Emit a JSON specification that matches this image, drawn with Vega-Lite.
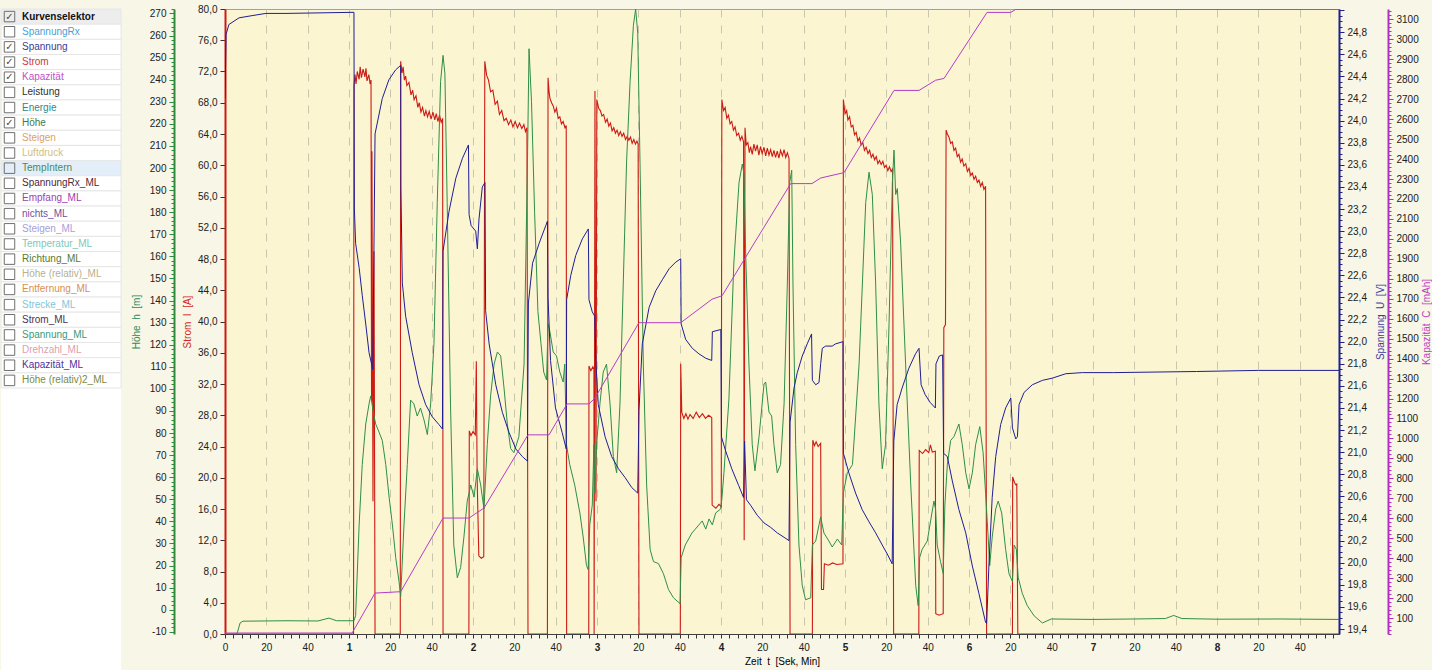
{
  "$schema": "https://vega.github.io/schema/vega-lite/v6.json",
  "background": "#F7F6E7",
  "padding": {"left": 0, "top": 3, "right": 0, "bottom": 0},
  "spacing": 8,
  "config": {
    "font": "Liberation Sans",
    "axis": {"labelFont": "Liberation Sans", "titleFont": "Liberation Sans", "labelFontSize": 10, "titleFontSize": 10, "titleFontWeight": "normal", "labelColor": "#202020", "labelFlush": false, "labelOverlap": false, "grid": false}
  },
  "datasets": {
    "kurven": [
      {"i": 0, "name": "Kurvenselektor", "an": true},
      {"i": 1, "name": "SpannungRx", "an": false},
      {"i": 2, "name": "Spannung", "an": true},
      {"i": 3, "name": "Strom", "an": true},
      {"i": 4, "name": "Kapazität", "an": true},
      {"i": 5, "name": "Leistung", "an": false},
      {"i": 6, "name": "Energie", "an": false},
      {"i": 7, "name": "Höhe", "an": true},
      {"i": 8, "name": "Steigen", "an": false},
      {"i": 9, "name": "Luftdruck", "an": false},
      {"i": 10, "name": "TempIntern", "an": false},
      {"i": 11, "name": "SpannungRx_ML", "an": false},
      {"i": 12, "name": "Empfang_ML", "an": false},
      {"i": 13, "name": "nichts_ML", "an": false},
      {"i": 14, "name": "Steigen_ML", "an": false},
      {"i": 15, "name": "Temperatur_ML", "an": false},
      {"i": 16, "name": "Richtung_ML", "an": false},
      {"i": 17, "name": "Höhe (relativ)_ML", "an": false},
      {"i": 18, "name": "Entfernung_ML", "an": false},
      {"i": 19, "name": "Strecke_ML", "an": false},
      {"i": 20, "name": "Strom_ML", "an": false},
      {"i": 21, "name": "Spannung_ML", "an": false},
      {"i": 22, "name": "Drehzahl_ML", "an": false},
      {"i": 23, "name": "Kapazität_ML", "an": false},
      {"i": 24, "name": "Höhe (relativ)2_ML", "an": false}
    ],
    "strom": [
      {"t":0,"v":0},{"t":62.2,"v":0},{"t":62.4,"v":70.1},{"t":62.9,"v":71.6},{"t":63.4,"v":70.4},{"t":64.0,"v":72.0},{"t":64.9,"v":71.0},{"t":65.4,"v":72.6},{"t":66.0,"v":71.2},{"t":66.8,"v":72.3},{"t":67.7,"v":71.3},{"t":68.2,"v":72.4},{"t":68.7,"v":70.8},{"t":69.6,"v":71.6},{"t":70.2,"v":70.4},{"t":70.65,"v":70.9},{"t":70.9,"v":29.8},{"t":71.1,"v":61.8},{"t":71.6,"v":17.0},{"t":72.1,"v":49.0},{"t":72.6,"v":0},
      {"t":84.8,"v":0},{"t":85.0,"v":73.3},{"t":85.6,"v":71.8},{"t":86.2,"v":72.6},{"t":86.8,"v":70.9},{"t":87.4,"v":71.4},{"t":88.0,"v":70.2},{"t":89.0,"v":70.6},{"t":90.0,"v":69.0},{"t":90.8,"v":69.6},{"t":91.5,"v":68.4},{"t":92.4,"v":68.9},{"t":93.3,"v":67.4},{"t":94.0,"v":68.0},{"t":94.8,"v":66.8},{"t":95.6,"v":67.4},{"t":96.5,"v":66.3},{"t":97.2,"v":67.0},{"t":98.0,"v":66.2},{"t":98.8,"v":66.9},{"t":99.7,"v":65.9},{"t":100.6,"v":66.8},{"t":101.5,"v":65.8},{"t":102.2,"v":66.6},{"t":103.0,"v":65.6},{"t":103.8,"v":66.4},{"t":104.6,"v":65.5},{"t":105.3,"v":66.0},{"t":105.5,"v":0},
      {"t":118.0,"v":0},{"t":118.2,"v":26.0},{"t":119.0,"v":25.4},{"t":120.0,"v":25.9},{"t":121.1,"v":25.5},{"t":121.6,"v":34.9},{"t":122.0,"v":20.0},{"t":122.8,"v":10.0},{"t":124.0,"v":9.7},{"t":125.2,"v":9.9},{"t":125.7,"v":73.3},{"t":126.6,"v":71.5},{"t":127.5,"v":70.9},{"t":128.5,"v":69.4},{"t":129.6,"v":69.6},{"t":130.7,"v":67.8},{"t":131.8,"v":68.2},{"t":132.8,"v":66.5},{"t":133.9,"v":67.0},{"t":135.0,"v":65.7},{"t":136.1,"v":66.0},{"t":137.2,"v":65.2},{"t":138.3,"v":65.8},{"t":139.3,"v":64.9},{"t":140.4,"v":65.6},{"t":141.5,"v":64.8},{"t":142.5,"v":65.4},{"t":143.6,"v":64.7},{"t":144.6,"v":65.2},{"t":145.4,"v":64.3},{"t":146.1,"v":64.8},{"t":146.6,"v":0},
      {"t":156.0,"v":0},{"t":156.3,"v":71.2},{"t":156.8,"v":69.4},{"t":157.2,"v":68.6},{"t":158.0,"v":68.0},{"t":158.8,"v":67.6},{"t":159.6,"v":66.8},{"t":160.4,"v":67.3},{"t":161.2,"v":66.0},{"t":162.0,"v":66.2},{"t":162.8,"v":65.3},{"t":163.6,"v":65.6},{"t":164.5,"v":64.8},{"t":165.1,"v":65.1},{"t":165.3,"v":0},
      {"t":176.0,"v":0},{"t":176.1,"v":34.3},{"t":177.0,"v":33.7},{"t":178.0,"v":34.2},{"t":178.5,"v":33.9},{"t":178.6,"v":0},{"t":179.0,"v":69.5},{"t":179.5,"v":17.0},{"t":179.9,"v":68.4},{"t":180.8,"v":67.3},{"t":181.6,"v":67.0},{"t":182.4,"v":66.3},{"t":183.2,"v":66.5},{"t":184.1,"v":65.5},{"t":184.9,"v":65.9},{"t":185.7,"v":65.0},{"t":186.5,"v":65.4},{"t":187.3,"v":64.4},{"t":188.1,"v":64.8},{"t":188.9,"v":64.1},{"t":189.7,"v":64.5},{"t":190.5,"v":63.8},{"t":191.3,"v":64.3},{"t":192.1,"v":63.7},{"t":192.9,"v":64.1},{"t":193.8,"v":63.3},{"t":194.6,"v":63.7},{"t":195.4,"v":63.2},{"t":196.2,"v":63.6},{"t":197.0,"v":62.8},{"t":197.8,"v":63.3},{"t":198.6,"v":62.7},{"t":199.3,"v":63.1},{"t":199.9,"v":62.7},{"t":200.3,"v":0},
      {"t":220.3,"v":0},{"t":220.5,"v":34.6},{"t":221.0,"v":28.4},{"t":222.0,"v":27.6},{"t":223.0,"v":28.2},{"t":224.0,"v":27.5},{"t":225.0,"v":28.1},{"t":226.5,"v":27.6},{"t":228.0,"v":28.4},{"t":229.5,"v":27.7},{"t":231.0,"v":28.2},{"t":232.5,"v":27.6},{"t":234.0,"v":28.0},{"t":235.5,"v":27.7},{"t":235.7,"v":16.5},{"t":237.5,"v":16.1},{"t":239.0,"v":16.6},{"t":240.1,"v":16.3},{"t":240.4,"v":68.4},{"t":241.2,"v":67.0},{"t":242.0,"v":67.4},{"t":242.8,"v":66.0},{"t":243.6,"v":66.4},{"t":244.4,"v":65.3},{"t":245.2,"v":65.6},{"t":246.0,"v":64.5},{"t":246.8,"v":64.9},{"t":247.6,"v":63.8},{"t":248.5,"v":64.1},{"t":249.3,"v":63.2},{"t":250.1,"v":63.7},{"t":250.9,"v":63.0},{"t":251.2,"v":12.0},{"t":251.6,"v":64.8},{"t":252.2,"v":62.6},{"t":253.0,"v":62.9},{"t":253.7,"v":61.6},{"t":254.3,"v":62.4},{"t":255.1,"v":61.4},{"t":255.9,"v":62.7},{"t":256.7,"v":61.8},{"t":257.5,"v":62.6},{"t":258.3,"v":61.3},{"t":259.1,"v":62.4},{"t":259.9,"v":61.5},{"t":260.8,"v":62.3},{"t":261.6,"v":61.2},{"t":262.4,"v":62.2},{"t":263.2,"v":61.3},{"t":264.0,"v":62.0},{"t":264.8,"v":61.1},{"t":265.6,"v":61.9},{"t":266.4,"v":61.0},{"t":267.2,"v":61.8},{"t":268.0,"v":60.9},{"t":268.8,"v":61.9},{"t":269.7,"v":61.2},{"t":270.5,"v":62.0},{"t":271.3,"v":61.0},{"t":272.1,"v":61.6},{"t":272.9,"v":60.9},{"t":273.4,"v":0},
      {"t":284.2,"v":0},{"t":284.4,"v":24.8},{"t":285.2,"v":24.1},{"t":286.0,"v":24.6},{"t":287.0,"v":24.0},{"t":288.2,"v":24.4},{"t":288.6,"v":5.7},{"t":289.6,"v":5.7},{"t":290.0,"v":9.0},{"t":292.0,"v":8.8},{"t":294.0,"v":9.1},{"t":296.0,"v":8.9},{"t":299.0,"v":9.0},{"t":299.2,"v":68.4},{"t":300.0,"v":66.6},{"t":300.8,"v":67.0},{"t":301.4,"v":65.8},{"t":302.2,"v":66.2},{"t":303.0,"v":64.9},{"t":303.8,"v":65.1},{"t":304.6,"v":63.9},{"t":305.4,"v":64.2},{"t":306.2,"v":63.1},{"t":307.0,"v":63.5},{"t":307.8,"v":62.6},{"t":308.6,"v":62.9},{"t":309.4,"v":61.9},{"t":310.2,"v":62.3},{"t":311.1,"v":61.5},{"t":311.9,"v":61.9},{"t":312.7,"v":61.0},{"t":313.5,"v":61.4},{"t":314.3,"v":60.7},{"t":315.1,"v":61.1},{"t":315.9,"v":60.2},{"t":316.7,"v":60.6},{"t":317.5,"v":60.1},{"t":318.3,"v":60.5},{"t":319.1,"v":59.7},{"t":319.9,"v":60.0},{"t":320.7,"v":59.3},{"t":321.5,"v":59.8},{"t":322.3,"v":59.2},{"t":323.0,"v":59.5},{"t":323.5,"v":0},
      {"t":335.7,"v":0},{"t":335.9,"v":23.5},{"t":337.5,"v":23.1},{"t":339.0,"v":23.6},{"t":340.5,"v":23.2},{"t":341.3,"v":24.2},{"t":342.2,"v":23.3},{"t":343.7,"v":23.4},{"t":343.9,"v":2.6},{"t":345.5,"v":2.4},{"t":347.5,"v":2.6},{"t":347.8,"v":39.2},{"t":348.6,"v":39.6},{"t":348.9,"v":64.5},{"t":349.5,"v":64.0},{"t":350.3,"v":63.6},{"t":351.1,"v":62.8},{"t":351.9,"v":63.0},{"t":352.7,"v":61.9},{"t":353.5,"v":62.2},{"t":354.3,"v":61.1},{"t":355.1,"v":61.4},{"t":355.9,"v":60.4},{"t":356.7,"v":60.8},{"t":357.5,"v":59.9},{"t":358.4,"v":60.2},{"t":359.2,"v":59.2},{"t":360.0,"v":59.6},{"t":360.8,"v":58.7},{"t":361.6,"v":59.0},{"t":362.4,"v":58.2},{"t":363.2,"v":58.6},{"t":364.0,"v":57.8},{"t":364.8,"v":58.1},{"t":365.6,"v":57.3},{"t":366.4,"v":57.8},{"t":367.2,"v":56.9},{"t":368.0,"v":57.3},{"t":368.5,"v":0},
      {"t":381.0,"v":0},{"t":381.1,"v":20.1},{"t":382.0,"v":19.4},{"t":382.6,"v":19.1},{"t":383.1,"v":19.2},{"t":383.6,"v":0},{"t":539,"v":0}
    ],
    "hoehe": [
      {"t":0,"v":-11},{"t":5.8,"v":-11},{"t":7.3,"v":-6},{"t":8.7,"v":-5.2},{"t":30,"v":-5.0},{"t":45,"v":-5.1},{"t":50.3,"v":-3.8},{"t":54,"v":-5.0},{"t":62.4,"v":-5.0},{"t":63.2,"v":-2.7},{"t":64.9,"v":38.4},{"t":66.4,"v":65.7},{"t":68.1,"v":84.1},{"t":69.7,"v":93.2},{"t":70.5,"v":96.8},{"t":72.1,"v":87.7},{"t":72.9,"v":84.1},{"t":74.5,"v":80.5},{"t":76.1,"v":76.6},{"t":77.8,"v":65.7},{"t":79.4,"v":51.0},{"t":81.0,"v":38.4},{"t":82.6,"v":23.6},{"t":84.2,"v":12.7},{"t":85.0,"v":6},
      {"t":86.6,"v":38.4},{"t":88.2,"v":65.7},{"t":89.8,"v":94.9},{"t":91.4,"v":93.2},{"t":93.0,"v":87.7},{"t":94.6,"v":91.3},{"t":96.3,"v":85.9},{"t":97.9,"v":79.3},{"t":99.5,"v":93.2},{"t":101.1,"v":120.4},{"t":102.7,"v":184.3},{"t":104.3,"v":239.1},{"t":105.5,"v":251},{"t":106.4,"v":242.7},{"t":107.5,"v":184.3},{"t":109.1,"v":93.2},{"t":110.7,"v":29.3},{"t":112.4,"v":14.5},{"t":114.0,"v":19.1},{"t":115.6,"v":32.9},{"t":117.2,"v":49.2},{"t":118.1,"v":52.8},{"t":118.9,"v":56.5},{"t":120.5,"v":51.0},{"t":122.1,"v":63.8},{"t":123.7,"v":56.5},{"t":125.3,"v":45.6},
      {"t":126.9,"v":74.8},{"t":128.5,"v":96.8},{"t":130.2,"v":111.2},{"t":131.8,"v":116.7},{"t":133.4,"v":114.9},{"t":135.0,"v":100.4},{"t":136.6,"v":84.1},{"t":138.2,"v":73.0},{"t":139.8,"v":71.1},{"t":142.2,"v":78.4},{"t":144.7,"v":111.2},{"t":146.3,"v":200},{"t":147.1,"v":254},{"t":148.3,"v":230},{"t":149.8,"v":180},{"t":151.4,"v":135},{"t":152.9,"v":120.4},{"t":154.2,"v":107.6},{"t":155.6,"v":104.0},{"t":156.3,"v":129.5},{"t":157.2,"v":125.9},{"t":158.8,"v":116.7},{"t":160.4,"v":114.9},{"t":162.0,"v":107.6},{"t":163.6,"v":103.1},{"t":164.4,"v":111.2},{"t":165.2,"v":74.8},{"t":166.8,"v":65.7},{"t":169.2,"v":56.5},{"t":171.7,"v":43.8},{"t":173.3,"v":32.9},{"t":174.9,"v":20.0},{"t":175.7,"v":18.2},
      {"t":176.5,"v":38.4},{"t":177.7,"v":47.4},{"t":178.5,"v":74.8},{"t":179.0,"v":52.8},{"t":179.8,"v":74.8},{"t":181.4,"v":93.2},{"t":183.0,"v":107.6},{"t":184.6,"v":111.2},{"t":186.3,"v":93.2},{"t":187.9,"v":69.3},{"t":189.5,"v":62.0},{"t":191.1,"v":93.2},{"t":192.7,"v":147.9},{"t":194.3,"v":202.7},{"t":196.0,"v":239.1},{"t":197.6,"v":264.6},{"t":198.7,"v":272},{"t":199.7,"v":261},{"t":200.8,"v":202.7},{"t":202.4,"v":111.2},{"t":204.0,"v":56.5},{"t":205.7,"v":27.3},{"t":207.3,"v":21.8},{"t":209.7,"v":20.9},{"t":212.1,"v":16.4},{"t":214.6,"v":9.1},{"t":217.0,"v":5.4},{"t":220.2,"v":2.7},
      {"t":220.7,"v":23.6},{"t":222.7,"v":29.3},{"t":225.9,"v":34.7},{"t":229.3,"v":38.4},{"t":230.9,"v":40.2},{"t":232.6,"v":36.5},{"t":234.2,"v":41.1},{"t":235.8,"v":38.4},{"t":237.4,"v":43.8},{"t":239.8,"v":45.6},{"t":240.4,"v":50},{"t":241.4,"v":62},{"t":243.8,"v":95},{"t":246.2,"v":157.0},{"t":248.7,"v":193.4},{"t":250.3,"v":201.8},{"t":251.1,"v":197.2},{"t":251.9,"v":162.4},{"t":253.5,"v":111.2},{"t":255.1,"v":74.8},{"t":256.4,"v":62.9},{"t":258.4,"v":78.4},{"t":260.8,"v":102.2},{"t":261.6,"v":103.1},{"t":263.2,"v":89.5},{"t":264.5,"v":87.7},{"t":265.6,"v":74.8},{"t":267.2,"v":62.0},{"t":268.8,"v":65.7},{"t":270.5,"v":93.2},{"t":272.1,"v":147.9},{"t":273.2,"v":193.4},{"t":274.2,"v":199.0},{"t":274.8,"v":147.9},{"t":276.1,"v":74.8},{"t":277.7,"v":29.3},{"t":279.3,"v":10.9},{"t":280.9,"v":4.5},{"t":283.4,"v":5.4},
      {"t":284.2,"v":29.3},{"t":285.8,"v":31.1},{"t":288.2,"v":42.0},{"t":289.8,"v":34.7},{"t":292.2,"v":31.1},{"t":293.8,"v":28.4},{"t":296.3,"v":32.0},{"t":298.4,"v":29.3},{"t":299.2,"v":52.8},{"t":301.1,"v":62.0},{"t":303.6,"v":65.7},{"t":306.8,"v":111.2},{"t":310.0,"v":184.3},{"t":311.6,"v":198.1},{"t":313.2,"v":188.0},{"t":314.8,"v":147.9},{"t":316.4,"v":93.2},{"t":318.0,"v":63.8},{"t":319.6,"v":74.8},{"t":321.3,"v":129.5},{"t":322.9,"v":193.4},{"t":323.7,"v":208.1},{"t":324.5,"v":188.0},{"t":325.3,"v":190.7},{"t":326.9,"v":166.0},{"t":329.3,"v":111.2},{"t":331.8,"v":56.5},{"t":334.2,"v":10.9},{"t":335.4,"v":1.8},
      {"t":336.1,"v":23.6},{"t":337.3,"v":27.3},{"t":339.8,"v":31.1},{"t":341.4,"v":40.2},{"t":343.0,"v":49.2},{"t":343.8,"v":45.6},{"t":344.6,"v":29.3},{"t":346.2,"v":21.8},{"t":347.5,"v":16.4},{"t":348.3,"v":47.4},{"t":349.5,"v":65.7},{"t":351.1,"v":76.6},{"t":352.7,"v":78.4},{"t":355.1,"v":84.1},{"t":356.7,"v":74.8},{"t":358.4,"v":62.0},{"t":360.0,"v":54.7},{"t":361.6,"v":62.0},{"t":363.2,"v":74.8},{"t":365.2,"v":82.9},{"t":366.8,"v":71.1},{"t":368.0,"v":52.8},{"t":368.8,"v":40.2},{"t":370.0,"v":20.0},{"t":371.2,"v":32.9},{"t":372.9,"v":45.6},{"t":374.1,"v":49.2},{"t":375.8,"v":43.8},{"t":377.7,"v":27.3},{"t":379.3,"v":16.4},{"t":381.0,"v":12.7},{"t":381.8,"v":29.3},{"t":382.9,"v":27.3},{"t":383.8,"v":14.5},{"t":385.8,"v":7.3},{"t":388.2,"v":1.8},{"t":391.5,"v":-2.8},{"t":395.5,"v":-6},{"t":399.8,"v":-4.2},{"t":420,"v":-4.4},{"t":440,"v":-4.2},{"t":455,"v":-4.0},{"t":459,"v":-2.6},{"t":463,"v":-4.0},{"t":480,"v":-4.3},{"t":510,"v":-4.2},{"t":539,"v":-4.4}
    ],
    "spannung": [
      {"t":0,"v":24.2},{"t":0.5,"v":24.78},{"t":1.9,"v":24.87},{"t":6.8,"v":24.93},{"t":13.1,"v":24.95},{"t":19.8,"v":24.97},{"t":29.5,"v":24.97},{"t":62.4,"v":24.98},{"t":62.6,"v":23.2},{"t":63.2,"v":22.89},{"t":64.9,"v":22.67},{"t":66.4,"v":22.42},{"t":68.1,"v":22.16},{"t":69.7,"v":21.9},{"t":71.5,"v":21.75},{"t":72.6,"v":23.88},{"t":76.1,"v":24.2},{"t":79.3,"v":24.37},{"t":82.6,"v":24.46},{"t":85.0,"v":24.5},
      {"t":85.1,"v":23.4},{"t":85.8,"v":22.53},{"t":87.4,"v":22.23},{"t":90.6,"v":21.9},{"t":93.9,"v":21.61},{"t":97.1,"v":21.43},{"t":100.3,"v":21.32},{"t":103.5,"v":21.25},{"t":105.2,"v":21.21},{"t":105.5,"v":22.82},{"t":108.4,"v":23.18},{"t":111.7,"v":23.48},{"t":114.9,"v":23.66},{"t":117.8,"v":23.78},{"t":118.1,"v":23.15},{"t":119.1,"v":23.05},{"t":121.3,"v":23.0},{"t":122.1,"v":22.84},{"t":122.9,"v":23.11},{"t":124.5,"v":23.4},{"t":125.8,"v":23.44},
      {"t":126.1,"v":22.28},{"t":127.8,"v":21.98},{"t":131.0,"v":21.61},{"t":134.2,"v":21.36},{"t":137.4,"v":21.18},{"t":140.7,"v":21.03},{"t":143.9,"v":20.96},{"t":146.3,"v":20.92},{"t":146.8,"v":22.35},{"t":148.8,"v":22.71},{"t":152.0,"v":22.89},{"t":155.2,"v":23.05},{"t":156.0,"v":23.09},{"t":156.3,"v":22.4},{"t":157.5,"v":21.83},{"t":159.9,"v":21.4},{"t":163.1,"v":21.18},{"t":165.1,"v":21.03},{"t":165.3,"v":22.38},{"t":167.3,"v":22.6},{"t":169.7,"v":22.78},{"t":172.9,"v":22.93},{"t":175.8,"v":23.02},{"t":176.1,"v":22.38},{"t":177.7,"v":22.27},{"t":178.9,"v":22.23},
      {"t":179.5,"v":21.8},{"t":180.6,"v":21.43},{"t":183.9,"v":21.14},{"t":187.1,"v":20.96},{"t":190.4,"v":20.85},{"t":193.6,"v":20.77},{"t":196.8,"v":20.68},{"t":199.7,"v":20.63},{"t":200.3,"v":21.38},{"t":201.9,"v":21.98},{"t":205.2,"v":22.31},{"t":208.4,"v":22.46},{"t":211.6,"v":22.56},{"t":214.9,"v":22.66},{"t":218.1,"v":22.72},{"t":220.5,"v":22.75},{"t":220.7,"v":22.16},{"t":222.9,"v":22.02},{"t":226.1,"v":21.94},{"t":229.3,"v":21.89},{"t":232.6,"v":21.85},{"t":235.5,"v":21.83},{"t":235.8,"v":22.09},{"t":239.9,"v":22.11},
      {"t":240.2,"v":21.14},{"t":241.9,"v":21.03},{"t":245.2,"v":20.85},{"t":248.5,"v":20.7},{"t":250.9,"v":20.59},{"t":251.4,"v":21.1},{"t":252.3,"v":20.57},{"t":254.3,"v":20.52},{"t":257.5,"v":20.43},{"t":260.8,"v":20.36},{"t":264.0,"v":20.32},{"t":267.2,"v":20.27},{"t":270.5,"v":20.23},{"t":272.9,"v":20.2},{"t":273.4,"v":21.27},{"t":275.3,"v":21.58},{"t":276.9,"v":21.72},{"t":279.3,"v":21.87},{"t":281.7,"v":21.98},{"t":283.8,"v":22.07},{"t":284.2,"v":21.65},{"t":285.8,"v":21.61},{"t":287.4,"v":21.63},{"t":288.2,"v":21.8},{"t":289.0,"v":21.94},{"t":290.6,"v":21.96},{"t":293.8,"v":21.96},{"t":295.4,"v":21.98},{"t":299.0,"v":22.0},
      {"t":299.2,"v":20.99},{"t":301.9,"v":20.81},{"t":305.1,"v":20.63},{"t":308.3,"v":20.48},{"t":311.6,"v":20.37},{"t":314.8,"v":20.27},{"t":318.0,"v":20.16},{"t":320.4,"v":20.08},{"t":322.8,"v":19.99},{"t":323.6,"v":21.1},{"t":325.2,"v":21.43},{"t":327.6,"v":21.58},{"t":330.9,"v":21.76},{"t":334.1,"v":21.89},{"t":335.8,"v":21.94},{"t":336.8,"v":21.61},{"t":338.8,"v":21.52},{"t":341.2,"v":21.45},{"t":343.7,"v":21.4},{"t":344.0,"v":21.8},{"t":345.6,"v":21.87},{"t":347.2,"v":21.88},
      {"t":347.7,"v":20.99},{"t":349.5,"v":20.96},{"t":351.9,"v":20.74},{"t":355.1,"v":20.48},{"t":358.4,"v":20.27},{"t":361.6,"v":19.97},{"t":364.8,"v":19.72},{"t":368.0,"v":19.46},{"t":368.5,"v":19.45},{"t":369.6,"v":19.97},{"t":371.2,"v":20.59},{"t":372.9,"v":20.96},{"t":375.3,"v":21.25},{"t":377.7,"v":21.4},{"t":380.2,"v":21.49},{"t":381.0,"v":21.22},{"t":382.6,"v":21.12},{"t":383.4,"v":21.14},{"t":384.2,"v":21.43},{"t":386.6,"v":21.54},{"t":390.6,"v":21.61},{"t":395.5,"v":21.65},{"t":400.3,"v":21.67},{"t":406.8,"v":21.71},{"t":414.8,"v":21.72},{"t":430,"v":21.72},{"t":470,"v":21.73},{"t":500,"v":21.74},{"t":539,"v":21.74}
    ],
    "kapazitaet": [
      {"t":0,"v":25},{"t":61.5,"v":25},{"t":72.6,"v":225},{"t":85.0,"v":232},{"t":105.5,"v":601},{"t":118.1,"v":601},{"t":121.6,"v":626},{"t":125.3,"v":651},{"t":146.6,"v":1018},{"t":156.8,"v":1018},{"t":165.5,"v":1173},{"t":176.1,"v":1173},{"t":178.9,"v":1201},{"t":200.3,"v":1580},{"t":220.5,"v":1580},{"t":235.7,"v":1698},{"t":240.5,"v":1715},{"t":273.7,"v":2277},{"t":284.0,"v":2277},{"t":288.2,"v":2305},{"t":299.5,"v":2332},{"t":323.7,"v":2744},{"t":335.8,"v":2744},{"t":343.8,"v":2795},{"t":347.9,"v":2804},{"t":368.7,"v":3135},{"t":380.2,"v":3135},{"t":382.6,"v":3150},{"t":539,"v":3150}
    ]
  },
  "hconcat": [
    {
      "width": 120,
      "height": 667,
      "view": {"fill": "#FFFFFF", "stroke": null},
      "data": {"name": "kurven"},
      "encoding": {
        "y": {"field": "i", "type": "ordinal", "scale": {"domain": [0,1,2,3,4,5,6,7,8,9,10,11,12,13,14,15,16,17,18,19,20,21,22,23,24,25,26,27,28,29,30,31,32,33,34,35,36,37,38,39,40,41,42,43], "paddingInner": 0, "paddingOuter": 0}, "axis": null}
      },
      "layer": [
        {
          "mark": {"type": "rect", "stroke": "#E6E6E6", "strokeWidth": 1},
          "encoding": {
            "x": {"datum": 0, "type": "quantitative", "scale": {"domain": [0, 120], "nice": false}, "axis": null},
            "x2": {"datum": 120},
            "fill": {"condition": [{"test": "datum.i === 0", "value": "#EDEDED"}, {"test": "datum.name === 'TempIntern'", "value": "#E3EEF9"}], "value": "#FFFFFF"}
          }
        },
        {
          "mark": {"type": "point", "shape": "square", "size": 110, "filled": false, "stroke": "#6E6E6E", "strokeWidth": 1, "opacity": 1},
          "encoding": {"x": {"datum": 8.5, "type": "quantitative"}}
        },
        {
          "transform": [{"filter": "datum.an"}],
          "mark": {"type": "text", "text": "✓", "font": "DejaVu Sans", "fontSize": 10, "color": "#4A4A4A", "baseline": "middle"},
          "encoding": {"x": {"datum": 8.5, "type": "quantitative"}}
        },
        {
          "transform": [{"filter": "datum.i > 0"}],
          "mark": {"type": "text", "align": "left", "baseline": "middle", "fontSize": 10, "font": "Liberation Sans"},
          "encoding": {
            "x": {"datum": 21, "type": "quantitative"},
            "text": {"field": "name"},
            "color": {
              "field": "name", "type": "nominal", "legend": null,
              "scale": {
                "domain": ["SpannungRx", "Spannung", "Strom", "Kapazität", "Leistung", "Energie", "Höhe", "Steigen", "Luftdruck", "TempIntern", "SpannungRx_ML", "Empfang_ML", "nichts_ML", "Steigen_ML", "Temperatur_ML", "Richtung_ML", "Höhe (relativ)_ML", "Entfernung_ML", "Strecke_ML", "Strom_ML", "Spannung_ML", "Drehzahl_ML", "Kapazität_ML", "Höhe (relativ)2_ML"],
                "range": ["#4A9FD5", "#3C3C96", "#C83C3C", "#C050C8", "#303030", "#2A8A8A", "#3C7A50", "#E0A060", "#D0C080", "#4A8A5A", "#502838", "#A040B0", "#7050A0", "#A8A0D8", "#80C8B8", "#5A7A2A", "#B8B090", "#D89050", "#80C8D8", "#503050", "#3A9A7A", "#E0A0B0", "#5030A0", "#7A8A40"]
              }
            }
          }
        },
        {
          "transform": [{"filter": "datum.i === 0"}],
          "mark": {"type": "text", "align": "left", "baseline": "middle", "fontSize": 10, "fontWeight": "bold", "font": "Liberation Sans", "color": "#111111"},
          "encoding": {"x": {"datum": 21, "type": "quantitative"}, "text": {"field": "name"}}
        }
      ]
    },
    {
      "width": 1114,
      "height": 625,
      "view": {"fill": "#FBF5D2", "stroke": "#A0A0A0"},
      "layer": [
        {
          "data": {"name": "strom"},
          "mark": {"type": "line", "color": "#CC1A14", "strokeWidth": 1.1, "clip": true},
          "encoding": {
            "x": {"field": "t", "type": "quantitative", "scale": {"domain": [0, 539], "nice": false, "zero": false},
              "axis": {"values": [0,4,8,12,16,20,24,28,32,36,40,44,48,52,56,60,64,68,72,76,80,84,88,92,96,100,104,108,112,116,120,124,128,132,136,140,144,148,152,156,160,164,168,172,176,180,184,188,192,196,200,204,208,212,216,220,224,228,232,236,240,244,248,252,256,260,264,268,272,276,280,284,288,292,296,300,304,308,312,316,320,324,328,332,336,340,344,348,352,356,360,364,368,372,376,380,384,388,392,396,400,404,408,412,416,420,424,428,432,436,440,444,448,452,456,460,464,468,472,476,480,484,488,492,496,500,504,508,512,516,520,524,528,532,536],
                "tickCount": 135,
                "labelExpr": "datum.value % 20 !== 0 ? '' : (datum.value % 60 === 0 ? '' + (datum.value / 60) : '' + (datum.value % 60))",
                "labelFontWeight": {"condition": {"test": "datum.value % 60 === 0 && datum.value > 0", "value": "bold"}, "value": "normal"},
                "tickSize": 4, "tickColor": "#333333", "domainColor": "#404040", "labelPadding": 4,
                "grid": true, "gridColor": "#C9C6B0", "gridDash": [8, 8],
                "gridOpacity": {"condition": {"test": "datum.value % 20 === 0 && datum.value > 0", "value": 1}, "value": 0},
                "title": "Zeit\u00a0\u00a0t\u00a0\u00a0[Sek, Min]", "titlePadding": 4}},
            "y": {"field": "v", "type": "quantitative", "scale": {"domain": [0, 80], "nice": false},
              "axis": {"orient": "left", "offset": 0, "values": [0,4,8,12,16,20,24,28,32,36,40,44,48,52,56,60,64,68,72,76,80], "tickCount": 21, "labelExpr": "replace(format(datum.value, '.1f'), '.', ',')", "tickSize": 5, "tickColor": "#333333", "domainColor": "#D01818", "domainWidth": 2, "labelPadding": 3, "title": "Strom\u00a0\u00a0I\u00a0\u00a0[A]", "titleColor": "#D02828", "titlePadding": 5}}
          }
        },
        {
          "data": {"name": "hoehe"},
          "mark": {"type": "line", "color": "#2F8F46", "strokeWidth": 1, "clip": true},
          "encoding": {
            "x": {"field": "t", "type": "quantitative"},
            "y": {"field": "v", "type": "quantitative", "scale": {"domain": [-11, 272], "nice": false, "zero": false},
              "axis": {"orient": "left", "offset": 51, "tickCount": 141, "labelExpr": "datum.value % 10 === 0 ? '' + datum.value : ''",
                "tickSize": {"condition": {"test": "datum.value % 10 === 0", "value": 5}, "value": 3},
                "tickColor": "#2E8B3E", "domainColor": "#2E8B3E", "domainWidth": 2, "labelPadding": 3, "title": "Höhe\u00a0\u00a0h\u00a0\u00a0[m]", "titleColor": "#2E8B57", "titlePadding": 8}}
          }
        },
        {
          "data": {"name": "spannung"},
          "mark": {"type": "line", "color": "#1E1E96", "strokeWidth": 1, "clip": true},
          "encoding": {
            "x": {"field": "t", "type": "quantitative"},
            "y": {"field": "v", "type": "quantitative", "scale": {"domain": [19.355, 25.01], "nice": false, "zero": false},
              "axis": {"orient": "right", "offset": 0, "tickCount": 113,
                "labelExpr": "abs(datum.value * 5 - round(datum.value * 5)) < 0.01 && datum.value < 24.9 ? replace(format(datum.value, '.1f'), '.', ',') : ''",
                "tickSize": {"condition": {"test": "abs(datum.value * 5 - round(datum.value * 5)) < 0.01", "value": 5}, "value": 3},
                "tickColor": "#20208C", "domainColor": "#20208C", "domainWidth": 2, "labelPadding": 3, "title": "Spannung\u00a0\u00a0U\u00a0\u00a0[V]", "titleColor": "#3B3BA0", "titleAngle": 270, "titlePadding": 19}}
          }
        },
        {
          "data": {"name": "kapazitaet"},
          "mark": {"type": "line", "color": "#B43CC8", "strokeWidth": 1, "clip": true},
          "encoding": {
            "x": {"field": "t", "type": "quantitative"},
            "y": {"field": "v", "type": "quantitative", "scale": {"domain": [20, 3152], "nice": false, "zero": false},
              "axis": {"orient": "right", "offset": 49, "tickCount": 157, "labelExpr": "datum.value % 100 === 0 ? '' + datum.value : ''",
                "tickSize": {"condition": {"test": "datum.value % 100 === 0", "value": 5}, "value": 3},
                "tickColor": "#B030C0", "domainColor": "#B030C0", "domainWidth": 2, "labelPadding": 3, "title": "Kapazität\u00a0\u00a0C\u00a0\u00a0[mAh]", "titleColor": "#C040C0", "titleAngle": 270, "titlePadding": 13}}
          }
        }
      ],
      "resolve": {"scale": {"y": "independent"}}
    }
  ]
}
